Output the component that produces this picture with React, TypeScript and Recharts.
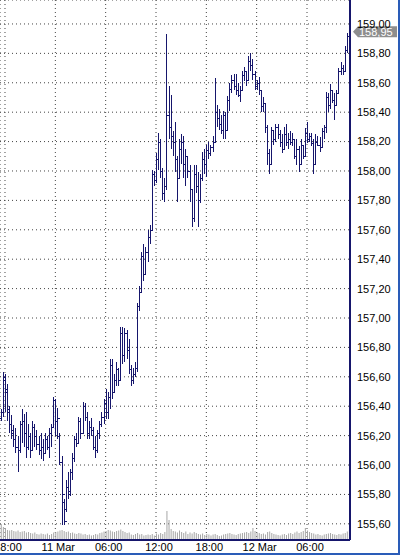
import React from 'react';
import { ComposedChart, Bar, XAxis, YAxis, CartesianGrid, ReferenceLine } from 'recharts';

// hours relative to 18:00 on 10 Mar, 15-minute bars
const firstBarHour = -0.5;
const barHours = 0.25;

const highs = [
  156.38,156.63,156.62,156.55,156.40,156.34,156.27,156.25,156.20,156.30,
  156.38,156.35,156.36,156.28,156.22,156.30,156.28,156.24,156.20,156.22,
  156.18,156.22,156.20,156.25,156.28,156.46,156.45,156.39,156.22,156.06,
  155.77,155.90,155.95,155.97,156.08,156.20,156.22,156.33,156.32,156.43,
  156.42,156.36,156.30,156.32,156.26,156.20,156.24,156.30,156.36,156.45,
  156.52,156.50,156.72,156.72,156.62,156.70,156.66,156.94,156.94,156.93,
  156.92,156.86,156.68,156.66,156.70,157.10,157.22,157.45,157.50,157.48,
  157.60,157.63,158.01,158.00,158.12,158.26,158.22,158.02,157.95,158.93,
  158.58,158.52,158.27,158.33,158.10,158.22,158.25,158.24,158.15,158.10,
  158.04,157.88,158.04,158.04,157.99,157.98,158.13,158.15,158.18,158.20,
  158.18,158.24,158.63,158.45,158.42,158.38,158.41,158.40,158.51,158.60,
  158.65,158.66,158.66,158.60,158.58,158.68,158.71,158.68,158.78,158.80,
  158.76,158.68,158.62,158.64,158.55,158.50,158.46,158.31,158.15,158.30,
  158.28,158.32,158.32,158.28,158.25,158.30,158.32,158.26,158.27,158.26,
  158.22,158.22,158.17,158.22,158.18,158.29,158.33,158.26,158.26,158.22,
  158.25,158.24,158.23,158.29,158.31,158.54,158.53,158.59,158.55,158.53,
  158.55,158.70,158.74,158.72,158.85,158.94,159.12,
];

const lows = [
  156.30,156.33,156.36,156.30,156.22,156.18,156.12,156.08,155.95,156.08,
  156.15,156.12,156.05,156.10,156.05,156.10,156.12,156.10,156.07,156.04,
  156.03,156.08,156.10,156.05,156.12,156.25,156.20,156.18,156.00,155.59,
  155.59,155.68,155.77,155.79,155.90,156.02,156.12,156.15,156.18,156.22,
  156.30,156.18,156.18,156.20,156.10,156.05,156.08,156.18,156.26,156.28,
  156.31,156.31,156.38,156.45,156.50,156.54,156.54,156.58,156.69,156.70,
  156.72,156.62,156.54,156.55,156.60,156.63,157.05,157.18,157.25,157.30,
  157.38,157.50,157.60,157.90,157.92,158.01,157.95,157.80,157.79,157.87,
  158.22,158.15,158.10,157.99,157.79,157.95,158.05,157.95,157.90,157.95,
  157.79,157.62,157.65,157.85,157.62,157.78,157.93,157.98,157.96,158.08,
  158.10,158.13,158.20,158.30,158.28,158.25,158.22,158.22,158.28,158.41,
  158.53,158.55,158.52,158.50,158.47,158.55,158.61,158.58,158.62,158.68,
  158.62,158.55,158.55,158.52,158.40,158.40,158.26,158.04,157.98,158.05,
  158.18,158.20,158.22,158.16,158.12,158.15,158.17,158.15,158.18,158.17,
  158.08,158.04,157.99,158.05,158.08,158.10,158.19,158.20,158.17,157.98,
  158.05,158.17,158.13,158.16,158.22,158.26,158.40,158.42,158.46,158.35,
  158.45,158.53,158.65,158.65,158.68,158.80,158.92,
];

const opens = [
  156.32,156.36,156.58,156.50,156.36,156.28,156.22,156.18,156.12,156.10,
  156.28,156.30,156.22,156.12,156.20,156.10,156.26,156.20,156.14,156.10,
  156.12,156.08,156.18,156.12,156.22,156.26,156.44,156.30,156.20,156.02,
  155.75,155.70,155.85,155.82,155.95,156.05,156.18,156.15,156.30,156.22,
  156.40,156.33,156.22,156.26,156.24,156.12,156.10,156.22,156.28,156.33,
  156.42,156.36,156.46,156.68,156.50,156.58,156.65,156.58,156.90,156.75,
  156.90,156.78,156.65,156.58,156.62,156.66,157.08,157.18,157.42,157.30,
  157.45,157.55,157.60,157.98,157.94,158.08,158.20,158.00,157.85,157.90,
  158.38,158.30,158.24,158.20,158.08,157.95,158.15,158.20,158.05,158.10,
  158.00,157.88,157.68,157.98,157.90,157.80,157.95,158.08,158.05,158.14,
  158.12,158.16,158.20,158.40,158.36,158.32,158.28,158.38,158.28,158.48,
  158.56,158.62,158.58,158.55,158.52,158.55,158.65,158.68,158.62,158.75,
  158.72,158.66,158.58,158.60,158.55,158.44,158.46,158.30,158.12,158.05,
  158.28,158.22,158.30,158.25,158.20,158.15,158.25,158.20,158.22,158.20,
  158.22,158.10,158.15,158.05,158.18,158.10,158.26,158.22,158.24,158.19,
  158.05,158.20,158.18,158.16,158.27,158.30,158.50,158.45,158.55,158.48,
  158.45,158.53,158.68,158.70,158.68,158.82,158.92,
];

const closes = [
  156.36,156.60,156.52,156.38,156.28,156.24,156.18,156.12,156.10,156.28,
  156.30,156.22,156.12,156.20,156.10,156.26,156.20,156.14,156.10,156.12,
  156.08,156.18,156.12,156.22,156.26,156.44,156.30,156.32,156.02,155.80,
  155.62,155.85,155.80,155.95,156.05,156.18,156.15,156.30,156.22,156.40,
  156.33,156.22,156.26,156.24,156.12,156.10,156.22,156.28,156.33,156.42,
  156.36,156.46,156.68,156.50,156.58,156.65,156.58,156.90,156.75,156.90,
  156.78,156.65,156.58,156.62,156.66,157.08,157.18,157.42,157.30,157.45,
  157.55,157.60,157.98,157.94,158.08,158.20,158.00,157.85,157.90,158.38,
  158.30,158.24,158.20,158.08,157.95,158.15,158.20,158.05,158.10,158.00,
  157.88,157.68,157.98,157.90,157.80,157.95,158.08,158.05,158.14,158.12,
  158.16,158.20,158.40,158.36,158.32,158.28,158.38,158.28,158.48,158.56,
  158.62,158.58,158.55,158.52,158.55,158.65,158.68,158.62,158.75,158.72,
  158.66,158.58,158.60,158.55,158.44,158.46,158.30,158.12,158.05,158.28,
  158.22,158.30,158.25,158.20,158.15,158.25,158.20,158.22,158.20,158.22,
  158.10,158.15,158.05,158.18,158.10,158.26,158.22,158.24,158.19,158.05,
  158.20,158.18,158.16,158.27,158.30,158.50,158.45,158.55,158.48,158.45,
  158.53,158.68,158.70,158.68,158.82,158.92,158.95,
];

const volumes = [
  160,130,110,100,95,100,90,85,95,80,
  85,90,75,80,70,65,75,60,55,65,
  60,55,65,50,60,75,80,85,95,100,
  90,80,85,70,75,65,60,70,65,55,
  60,50,55,45,50,60,55,70,75,85,
  90,100,95,85,80,90,95,105,90,80,
  70,75,55,50,60,70,55,60,45,50,
  55,50,60,45,65,55,70,60,80,290,
  200,110,90,85,75,95,80,70,85,60,
  75,65,80,70,60,55,65,50,60,55,
  45,55,60,50,40,45,55,60,65,70,
  60,55,50,60,65,70,75,80,70,85,
  120,90,75,70,60,65,55,80,85,70,
  60,55,50,45,55,60,50,65,70,60,
  75,85,70,80,90,120,95,80,70,65,
  55,60,50,45,55,60,65,70,60,55,
  50,60,55,65,70,85,100,
];

const timeTicks = [0, 6, 12, 18, 24, 30, 36];
const timeTickLabels = ['18:00', '11 Mar', '06:00', '12:00', '18:00', '12 Mar', '06:00'];
const priceTicks = [
  155.6, 155.8, 156.0, 156.2, 156.4, 156.6, 156.8, 157.0, 157.2,
  157.4, 157.6, 157.8, 158.0, 158.2, 158.4, 158.6, 158.8, 159.0,
];
const lastPrice = 158.95;

const data = opens.map((o, i) => ({
  t: firstBarHour + i * barHours,
  range: [lows[i], highs[i]],
  open: o,
  high: highs[i],
  low: lows[i],
  close: closes[i],
  vol: volumes[i],
}));

const NAVY = '#16166c';
const FONT = '"Liberation Sans", Arial, sans-serif';

const OhlcShape = (props: any) => {
  const { x, y, width, height, payload } = props;
  if (x == null || y == null || isNaN(x) || isNaN(y)) return null;
  const top = Math.min(y, y + height);
  const h = Math.abs(height);
  const span = payload.high - payload.low || 1;
  const cx = Math.round(x + width / 2) + 0.5;
  const yo = Math.round(top + ((payload.high - payload.open) / span) * h) + 0.5;
  const yc = Math.round(top + ((payload.high - payload.close) / span) * h) + 0.5;
  return (
    <g stroke={NAVY} strokeWidth={1} shapeRendering="crispEdges">
      <line x1={cx} y1={top} x2={cx} y2={top + h} />
      <line x1={cx - 2} y1={yo} x2={cx} y2={yo} />
      <line x1={cx} y1={yc} x2={cx + 2} y2={yc} />
    </g>
  );
};

const PriceBadge = (props: any) => {
  const { viewBox } = props;
  if (!viewBox) return null;
  const left = viewBox.x + viewBox.width + 3;
  const y = viewBox.y + 0.5;
  const pts = [
    [left, y],
    [left + 5, y - 5.5],
    [left + 44, y - 5.5],
    [left + 44, y + 5.5],
    [left + 5, y + 5.5],
  ]
    .map((p) => p.join(','))
    .join(' ');
  return (
    <g>
      <polygon points={pts} fill="#8e8e8e" />
      <text x={left + 6} y={y + 4} fill="#ffffff" fontSize={11} fontFamily={FONT}>
        {lastPrice.toFixed(2).replace('.', ',')}
      </text>
    </g>
  );
};

const xDomain = [-0.596, 41.125];

export default function App() {
  return (
    <div style={{ position: 'absolute', left: 0, top: 0, width: 405, height: 555, background: '#fff' }}>
      <ComposedChart
        width={405}
        height={555}
        data={data}
        margin={{ top: 0, right: 0, bottom: 0, left: 0 }}
      >
        <CartesianGrid stroke="#444" strokeDasharray="1 3" />
        <XAxis
          dataKey="t"
          type="number"
          domain={xDomain}
          allowDataOverflow
          ticks={timeTicks}
          interval={0}
          tickFormatter={(v: number) => timeTickLabels[timeTicks.indexOf(v)] ?? ''}
          height={15}
          tickSize={0}
          tickMargin={3}
          axisLine={{ stroke: NAVY, strokeWidth: 2 }}
          tick={{ fontSize: 11, fill: '#000', fontFamily: FONT, dx: 3 }}
        />
        <XAxis
          xAxisId="vol"
          dataKey="t"
          type="number"
          domain={xDomain}
          allowDataOverflow
          ticks={timeTicks}
          hide
        />
        <YAxis
          orientation="right"
          domain={[155.49, 159.163]}
          allowDataOverflow
          ticks={priceTicks}
          interval={0}
          width={55}
          tickSize={0}
          tickMargin={7}
          axisLine={{ stroke: NAVY, strokeWidth: 2 }}
          tickFormatter={(v: number) => v.toFixed(2).replace('.', ',')}
          tick={{ fontSize: 11, fill: '#000', fontFamily: FONT }}
        />
        <YAxis yAxisId="vol" hide domain={[0, 5400]} />
        <Bar
          xAxisId="vol"
          yAxisId="vol"
          dataKey="vol"
          fill="#a6a6a6"
          barSize={1}
          isAnimationActive={false}
        />
        <Bar
          dataKey="range"
          barSize={2}
          shape={<OhlcShape />}
          isAnimationActive={false}
        />
        <ReferenceLine
          y={lastPrice}
          stroke="none"
          ifOverflow="visible"
          label={<PriceBadge />}
        />
      </ComposedChart>
      <div
        style={{
          position: 'absolute',
          left: 0,
          top: 0,
          width: 400,
          height: 555,
          boxSizing: 'border-box',
          borderRight: '2px solid #2a5cb8',
          borderBottom: '2px solid #2a5cb8',
          pointerEvents: 'none',
        }}
      />
    </div>
  );
}
